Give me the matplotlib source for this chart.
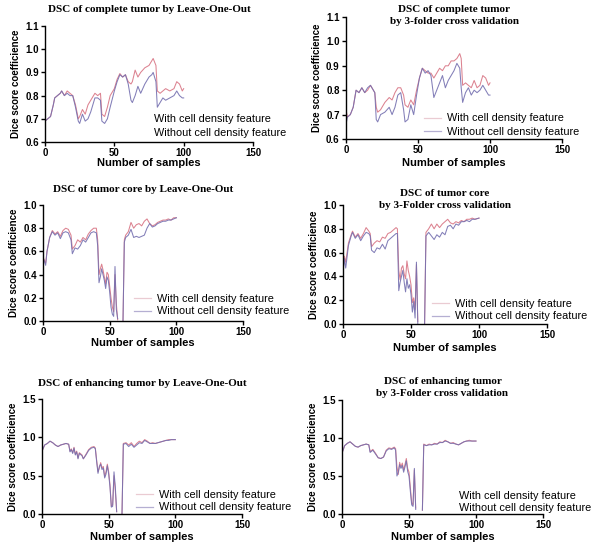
import numpy as np
import matplotlib
matplotlib.use('Agg')
import matplotlib.pyplot as plt

nan = np.nan

# Complete tumor, Leave-One-Out
x_ct_loo = [0, 2, 4, 6, 7, 9, 11, 12, 14, 16, 18, 20, 22, 24, 25, 27, 29, 31, 33, 36, 38, 40, 41, 43, 45, 47,
            50, 52, 54, 56, 58, 60, 62, 63, 65, 67, 69, 72, 75, 77, 78, 80, 81, 83, 85, 87, 90, 93, 95, 97, 99, 100]
with_ct_loo = [0.69, 0.70, 0.71, 0.76, 0.79, 0.80, 0.81, 0.82, 0.80, 0.82, 0.81, 0.80, 0.76, 0.70, 0.71, 0.74, 0.72,
               0.76, 0.78, 0.81, 0.80, 0.81, 0.72, 0.71, 0.75, 0.80, 0.83, 0.87, 0.895, 0.88, 0.89, 0.86, 0.85, 0.86,
               0.91, 0.88, 0.90, 0.92, 0.93, 0.95, 0.96, 0.93, 0.82, 0.81, 0.82, 0.83, 0.82, 0.83, 0.86, 0.85, 0.82, 0.83]
without_ct_loo = [0.69, 0.70, 0.71, 0.76, 0.79, 0.80, 0.81, 0.82, 0.80, 0.81, 0.80, 0.80, 0.75, 0.69, 0.68, 0.72, 0.69,
                  0.70, 0.73, 0.79, 0.79, 0.78, 0.69, 0.68, 0.70, 0.75, 0.82, 0.86, 0.89, 0.88, 0.89, 0.85, 0.78, 0.77,
                  0.80, 0.84, 0.81, 0.85, 0.88, 0.89, 0.90, 0.86, 0.75, 0.77, 0.79, 0.78, 0.79, 0.80, 0.82, 0.80, 0.79, 0.79]

# Complete tumor, 3-folder
x_ct_cv = [0, 1, 3, 5, 7, 9, 11, 13, 15, 17, 19, 20, 21, 22, 24, 27, 30, 32, 34, 36, 38, 40, 41, 43, 45, 47, 49,
           51, 53, 55, 57, 59, 61, 63, 65, 67, 69, 71, 73, 75, 77, 79, 80, 81, 83, 85, 87, 89, 91, 93, 95, 97, 99, 100]
with_ct_cv = [0.72, 0.69, 0.70, 0.73, 0.80, 0.79, 0.81, 0.79, 0.80, 0.82, 0.80, 0.79, 0.73, 0.71, 0.72, 0.75, 0.77,
              0.76, 0.79, 0.81, 0.81, 0.78, 0.74, 0.73, 0.76, 0.74, 0.80, 0.85, 0.89, 0.88, 0.87, 0.87, 0.85, 0.87,
              0.89, 0.88, 0.90, 0.90, 0.92, 0.92, 0.93, 0.95, 0.93, 0.82, 0.83, 0.82, 0.81, 0.84, 0.81, 0.82, 0.86,
              0.85, 0.82, 0.83]
without_ct_cv = [0.66, 0.69, 0.70, 0.73, 0.80, 0.79, 0.81, 0.79, 0.81, 0.82, 0.80, 0.79, 0.68, 0.67, 0.70, 0.71, 0.73,
                 0.70, 0.73, 0.78, 0.79, 0.72, 0.67, 0.68, 0.74, 0.70, 0.78, 0.85, 0.89, 0.87, 0.88, 0.86, 0.77, 0.80,
                 0.83, 0.86, 0.81, 0.84, 0.86, 0.88, 0.91, 0.89, 0.81, 0.75, 0.79, 0.81, 0.78, 0.80, 0.79, 0.80, 0.82,
                 0.80, 0.78, 0.78]

# Tumor core, Leave-One-Out
x_tc_loo = [0, 2, 3, 5, 7, 9, 11, 13, 15, 17, 19, 21, 22, 24, 26, 28, 30, 32, 34, 36, 38, 40, 41, 42, 43, 44, 45,
            46, 47, 48, 49, 50, 51, 52, 53, 54, 55, 56, 58, 60, 61, 62, 64, 66, 68, 70, 72, 74, 76, 78, 80, 82, 84,
            86, 88, 90, 92, 94, 96, 98, 100]
with_tc_loo = [0.55, 0.50, 0.60, 0.72, 0.78, 0.75, 0.77, 0.73, 0.78, 0.80, 0.79, 0.74, 0.62, 0.65, 0.70, 0.68, 0.72,
               0.70, 0.75, 0.78, 0.80, 0.80, 0.70, 0.40, 0.45, 0.49, 0.44, 0.38, 0.32, 0.42, 0.40, 0.30, 0.20, 0.12,
               0.08, 0.40, 0.15, 0.01, nan, 0.0, 0.70, 0.74, 0.77, 0.85, 0.80, 0.83, 0.84, 0.82, 0.86, 0.88, 0.84,
               0.82, 0.83, 0.85, 0.86, 0.87, 0.87, 0.88, 0.87, 0.89, 0.89]
without_tc_loo = [0.55, 0.48, 0.60, 0.72, 0.77, 0.74, 0.76, 0.71, 0.76, 0.77, 0.76, 0.70, 0.58, 0.63, 0.62, 0.65, 0.70,
                  0.68, 0.72, 0.76, 0.77, 0.76, 0.65, 0.33, 0.38, 0.45, 0.40, 0.35, 0.28, 0.38, 0.35, 0.25, 0.12, 0.06,
                  0.04, 0.47, 0.10, 0.02, nan, 0.0, 0.68, 0.72, 0.74, 0.79, 0.72, 0.73, 0.72, 0.73, 0.74, 0.80, 0.84,
                  0.81, 0.82, 0.84, 0.85, 0.86, 0.86, 0.87, 0.87, 0.88, 0.89]

# Tumor core, 3-folder
x_tc_cv = [0, 1, 2, 4, 6, 7, 9, 11, 13, 15, 17, 19, 20, 21, 23, 25, 27, 29, 31, 33, 35, 37, 39, 40, 41, 42, 43, 44,
           45, 46, 47, 48, 49, 50, 51, 52, 53, 54, 55, 57, 60, 61, 63, 65, 67, 69, 71, 73, 75, 77, 79, 81, 83, 85,
           87, 89, 91, 93, 95, 97, 100]
with_tc_cv = [0.45, 0.57, 0.52, 0.68, 0.75, 0.78, 0.73, 0.76, 0.72, 0.76, 0.81, 0.78, 0.76, 0.65, 0.68, 0.70, 0.69,
              0.73, 0.72, 0.76, 0.77, 0.79, 0.81, 0.80, 0.45, 0.37, 0.47, 0.49, 0.42, 0.38, 0.53, 0.45, 0.40, 0.33,
              0.18, 0.22, 0.12, 0.50, 0.02, nan, 0.0, 0.77, 0.80, 0.84, 0.80, 0.84, 0.81, 0.84, 0.86, 0.88, 0.85,
              0.84, 0.86, 0.85, 0.87, 0.86, 0.88, 0.88, 0.89, 0.88, 0.89]
without_tc_cv = [0.42, 0.55, 0.47, 0.66, 0.74, 0.77, 0.72, 0.75, 0.70, 0.74, 0.77, 0.76, 0.74, 0.62, 0.60, 0.64, 0.63,
                 0.67, 0.63, 0.70, 0.72, 0.74, 0.76, 0.76, 0.28, 0.35, 0.40, 0.45, 0.35, 0.27, 0.38, 0.30, 0.33, 0.25,
                 0.10, 0.19, 0.05, 0.52, 0.0, nan, 0.0, 0.74, 0.77, 0.74, 0.71, 0.75, 0.73, 0.77, 0.75, 0.82, 0.83,
                 0.80, 0.84, 0.83, 0.86, 0.86, 0.87, 0.86, 0.88, 0.88, 0.89]

# Enhancing tumor, Leave-One-Out
x_et_loo = [0, 2, 4, 6, 8, 10, 12, 14, 16, 18, 20, 21, 22, 23, 24, 25, 26, 27, 28, 30, 31, 33, 35, 37, 39, 40, 41,
            42, 43, 44, 45, 46, 47, 48, 49, 50, 51, 52, 53, 54, 55, 56, 58, 60, 61, 63, 65, 67, 69, 71, 73, 75, 77,
            79, 81, 83, 85, 87, 89, 91, 93, 95, 97, 100]
with_et_loo = [0.82, 0.90, 0.92, 0.95, 0.93, 0.90, 0.88, 0.90, 0.91, 0.92, 0.91, 0.82, 0.85, 0.80, 0.87, 0.78, 0.82,
               0.73, 0.80, 0.77, 0.72, 0.78, 0.84, 0.87, 0.88, 0.86, 0.70, 0.55, 0.60, 0.67, 0.60, 0.62, 0.49, 0.55,
               0.65, 0.55, 0.38, 0.10, 0.12, 0.50, 0.30, 0.03, nan, 0.0, 0.92, 0.93, 0.90, 0.93, 0.88, 0.92, 0.95,
               0.93, 0.97, 0.95, 0.92, 0.93, 0.92, 0.93, 0.94, 0.95, 0.96, 0.97, 0.97, 0.97]
without_et_loo = [0.82, 0.90, 0.92, 0.95, 0.93, 0.90, 0.88, 0.90, 0.91, 0.92, 0.91, 0.81, 0.84, 0.79, 0.86, 0.77, 0.81,
                  0.72, 0.79, 0.76, 0.72, 0.77, 0.83, 0.86, 0.87, 0.85, 0.68, 0.53, 0.62, 0.65, 0.58, 0.60, 0.47, 0.52,
                  0.63, 0.52, 0.35, 0.09, 0.10, 0.55, 0.35, 0.03, nan, 0.0, 0.91, 0.92, 0.88, 0.91, 0.87, 0.90, 0.93,
                  0.92, 0.96, 0.94, 0.92, 0.92, 0.92, 0.93, 0.94, 0.95, 0.96, 0.96, 0.97, 0.97]

# Enhancing tumor, 3-folder
x_et_cv = [0, 2, 4, 6, 8, 10, 12, 14, 16, 18, 20, 21, 23, 25, 27, 29, 31, 33, 35, 37, 39, 40, 41, 42, 43, 44, 45,
           46, 47, 48, 49, 50, 51, 52, 53, 54, 55, 58, 60, 61, 63, 65, 67, 69, 71, 73, 75, 77, 79, 81, 83, 85, 87,
           89, 91, 93, 95, 97, 100]
with_et_cv = [0.80, 0.90, 0.93, 0.95, 0.92, 0.89, 0.88, 0.90, 0.91, 0.92, 0.91, 0.82, 0.85, 0.80, 0.74, 0.73, 0.75,
              0.84, 0.87, 0.86, 0.88, 0.86, 0.62, 0.52, 0.68, 0.62, 0.67, 0.58, 0.65, 0.73, 0.60, 0.55, 0.35, 0.15,
              0.12, 0.58, 0.08, nan, 0.05, 0.92, 0.90, 0.92, 0.91, 0.93, 0.92, 0.95, 0.94, 0.97, 0.95, 0.93, 0.94,
              0.92, 0.91, 0.93, 0.95, 0.96, 0.97, 0.96, 0.96]
without_et_cv = [0.80, 0.90, 0.93, 0.95, 0.92, 0.89, 0.88, 0.90, 0.91, 0.92, 0.91, 0.81, 0.84, 0.79, 0.74, 0.73, 0.75,
                 0.83, 0.86, 0.85, 0.87, 0.84, 0.50, 0.55, 0.65, 0.60, 0.64, 0.55, 0.62, 0.70, 0.56, 0.50, 0.30, 0.12,
                 0.10, 0.60, 0.06, nan, 0.05, 0.91, 0.90, 0.91, 0.91, 0.92, 0.92, 0.94, 0.94, 0.96, 0.95, 0.93, 0.93,
                 0.92, 0.91, 0.93, 0.95, 0.96, 0.96, 0.96, 0.96]

labels = ['With cell density feature', 'Without cell density feature']

RED = '#dc8290'
BLUE = '#7570b0'

SANS = 'Liberation Sans'
SERIF = 'Liberation Serif'

W, H = 600, 548
fig = plt.figure(figsize=(6, 5.48), dpi=100)


def fx(px):
    return px / W


def fy(px):
    return 1 - px / H


# pixel boxes (left, right, top, bottom), title line positions, xlabel y, legend anchor
panels = [
    dict(box=(45, 253, 26, 142), x=x_ct_loo, a=with_ct_loo, b=without_ct_loo,
         ylim=(0.6, 1.1), yt=np.arange(0.6, 1.11, 0.1),
         title=['DSC of complete tumor by Leave-One-Out'], ty=[10],
         xl=163, leg=(154, 126), handles=False, sp=0.4),
    dict(box=(346, 562, 17, 139), x=x_ct_cv, a=with_ct_cv, b=without_ct_cv,
         ylim=(0.6, 1.1), yt=np.arange(0.6, 1.11, 0.1),
         title=['DSC of complete tumor', 'by 3-folder cross validation'], ty=[9, 22],
         xl=163, leg=(424, 125), handles=True, sp=0.3),
    dict(box=(43, 243, 205, 321), x=x_tc_loo, a=with_tc_loo, b=without_tc_loo,
         ylim=(0.0, 1.0), yt=np.arange(0.0, 1.01, 0.2),
         title=['DSC of tumor core by Leave-One-Out'], ty=[189],
         xl=343, leg=(134, 305), handles=True, sp=0.25),
    dict(box=(343, 547, 205, 324), x=x_tc_cv, a=with_tc_cv, b=without_tc_cv,
         ylim=(0.0, 1.0), yt=np.arange(0.0, 1.01, 0.2),
         title=['DSC of tumor core', 'by 3-Folder cross validation'], ty=[193, 206],
         xl=348, leg=(432, 310), handles=True, sp=0.25),
    dict(box=(42, 242, 399, 514), x=x_et_loo, a=with_et_loo, b=without_et_loo,
         ylim=(0.0, 1.5), yt=np.arange(0.0, 1.51, 0.5),
         title=['DSC of enhancing tumor by Leave-One-Out'], ty=[383],
         xl=537, leg=(136, 501), handles=True, sp=0.25),
    dict(box=(342, 543, 400, 514), x=x_et_cv, a=with_et_cv, b=without_et_cv,
         ylim=(0.0, 1.5), yt=np.arange(0.0, 1.51, 0.5),
         title=['DSC of enhancing tumor', 'by 3-Folder cross validation'], ty=[381, 394],
         xl=537, leg=(459, 502), handles=False, sp=0.1),
]

for p in panels:
    l, r, t, b = p['box']
    ax = fig.add_axes([fx(l), fy(b), (r - l) / W, (b - t) / H])
    la, = ax.plot(p['x'], p['a'], color=RED, lw=0.75)
    lb, = ax.plot(p['x'], p['b'], color=BLUE, lw=0.75, alpha=0.9)
    ax.set_xlim(0, 150)
    ax.set_ylim(*p['ylim'])
    ax.set_xticks([0, 50, 100, 150])
    ax.set_yticks(p['yt'])
    ax.set_yticklabels(['%.1f' % v for v in p['yt']])
    for s in ['top', 'right']:
        ax.spines[s].set_visible(False)
    for s in ['left', 'bottom']:
        ax.spines[s].set_linewidth(1.0)
    ax.tick_params(direction='out', length=3, width=1.0, pad=1.5, labelsize=7)
    for lab in ax.get_xticklabels() + ax.get_yticklabels():
        lab.set_fontfamily(SANS)
        lab.set_fontweight('bold')
    ax.set_ylabel('Dice score coefficience', fontsize=7, fontweight='bold', family=SANS, va='center')
    ax.yaxis.set_label_coords(-29 / (r - l), 0.5)
    ax.set_xlabel('Number of samples', fontsize=8, fontweight='bold', family=SANS, va='center')
    ax.xaxis.set_label_coords(0.5, -(p['xl'] - b) / (b - t))

    cx = (l + r) / 2
    for line, y in zip(p['title'], p['ty']):
        fig.text(fx(cx), fy(y), line, ha='center', va='center', fontsize=8,
                 fontweight='bold', family=SERIF)

    lx, ly = p['leg']
    if p['handles']:
        hs = [plt.Line2D([], [], color='#eacbd2', lw=0.9), plt.Line2D([], [], color='#b5afd2', lw=0.9)]
        ax.legend(hs, labels, loc='center left', bbox_to_anchor=(fx(lx), fy(ly)),
                  bbox_transform=fig.transFigure, frameon=False,
                  handlelength=1.6, handletextpad=0.5, labelspacing=p['sp'], borderpad=0,
                  borderaxespad=0, prop={'family': SANS, 'size': 7.8})
    else:
        leg = ax.legend([la, lb], labels, loc='center left', bbox_to_anchor=(fx(lx), fy(ly)),
                        bbox_transform=fig.transFigure, frameon=False,
                        handlelength=0, handletextpad=0, labelspacing=p['sp'], borderpad=0,
                        borderaxespad=0, prop={'family': SANS, 'size': 7.8})
        for h in leg.legend_handles:
            h.set_visible(False)

fig.savefig('out.png', dpi=100)
